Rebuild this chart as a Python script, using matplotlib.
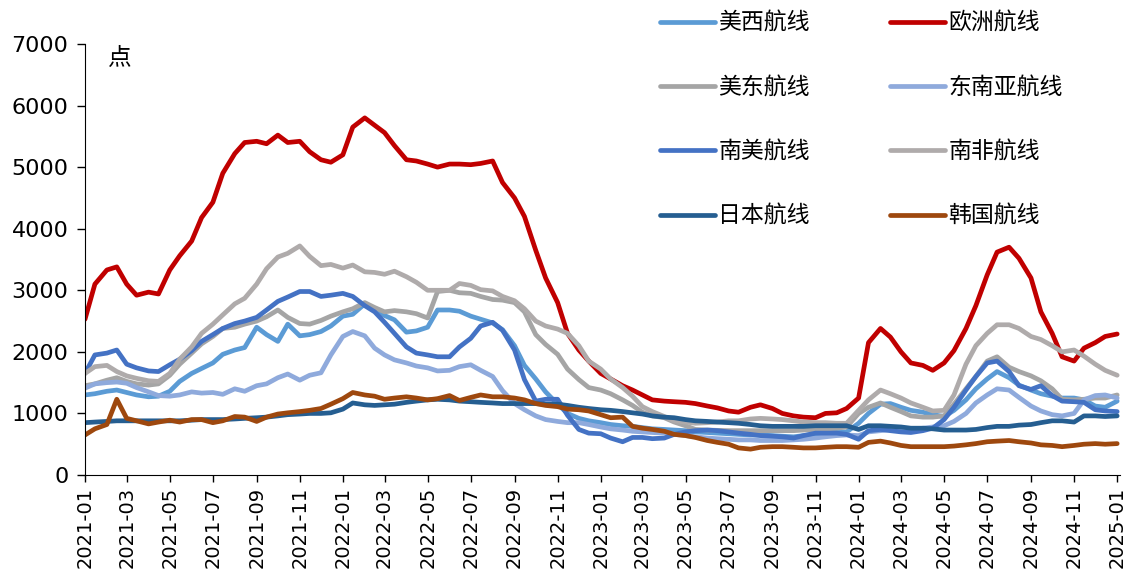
import matplotlib
matplotlib.use('Agg')
import matplotlib.pyplot as plt
import matplotlib.dates as mdates
import pandas as pd

plt.rcParams['font.family'] = ['DejaVu Sans', 'Noto Sans CJK SC']

# 半月数据 2021-01 ~ 2025-01
dates = pd.date_range('2021-01-01', '2025-01-01', freq='SMS')

us_west = [1300, 1320, 1360, 1380, 1340, 1300, 1270, 1280, 1360, 1520,
           1650, 1730, 1820, 1960, 2030, 2070, 2400, 2280, 2170, 2450,
           2260, 2280, 2330, 2420, 2580, 2610, 2780, 2690, 2590, 2520,
           2320, 2340, 2400, 2680, 2680, 2660, 2580, 2530, 2470, 2360,
           2100, 1780, 1560, 1350, 1150, 1000, 920, 880, 850, 820,
           800, 790, 770, 750, 740, 730, 720, 700, 690, 680,
           670, 660, 650, 650, 640, 630, 620, 640, 660, 680,
           700, 700, 840, 1000, 1150, 1160, 1100, 1050, 1020, 980,
           950, 1050, 1220, 1400, 1560, 1680, 1580, 1460, 1380, 1320,
           1280, 1250, 1250, 1220, 1120, 1100, 1200]
europe = [2530, 3100, 3330, 3380, 3100, 2920, 2970, 2940, 3330, 3560,
          3800, 4180, 4430, 4900, 5220, 5400, 5420, 5380, 5520, 5400,
          5420, 5250, 5120, 5080, 5200, 5650, 5800, 5680, 5560, 5350,
          5120, 5100, 5050, 5000, 5050, 5050, 5040, 5060, 5100, 4750,
          4500, 4200, 3650, 3200, 2800, 2300, 2030, 1850, 1650, 1560,
          1450, 1380, 1300, 1220, 1200, 1190, 1180, 1160, 1120, 1090,
          1040, 1020, 1100, 1140, 1080, 1000, 960, 940, 930, 1000,
          1010, 1080, 1250, 2150, 2380, 2240, 2000, 1820, 1780, 1700,
          1820, 2020, 2380, 2750, 3250, 3620, 3700, 3520, 3200, 2650,
          2300, 1920, 1850, 2060, 2150, 2250, 2290]
us_east = [1450, 1480, 1540, 1580, 1520, 1480, 1460, 1480, 1620, 1800,
           1980, 2130, 2250, 2380, 2400, 2450, 2500, 2570, 2680, 2560,
           2460, 2450, 2510, 2580, 2650, 2700, 2800, 2720, 2650, 2670,
           2650, 2620, 2550, 2980, 3000, 2960, 2950, 2900, 2850, 2840,
           2800, 2650, 2280, 2120, 1960, 1720, 1550, 1420, 1380, 1320,
           1220, 1130, 1020, 960, 930, 860, 800, 740, 730, 725,
           720, 720, 720, 720, 720, 720, 720, 730, 740, 750,
           760, 780, 1000, 1100, 1170, 1100, 1030, 960, 940, 940,
           960, 1150, 1400, 1600, 1850, 1920, 1750, 1680, 1610, 1530,
           1400, 1230, 1220, 1230, 1250, 1250, 1300]
sea = [1410, 1480, 1500, 1510, 1490, 1420, 1350, 1290, 1280, 1300,
       1350, 1330, 1340, 1310, 1400, 1360, 1450, 1480, 1580, 1640,
       1540, 1620, 1660, 1950, 2250, 2330, 2260, 2060, 1950, 1870,
       1820, 1770, 1740, 1690, 1700, 1760, 1790, 1700, 1600, 1370,
       1160, 1060, 960, 900, 870, 850, 850, 820, 780, 750,
       730, 710, 700, 690, 680, 660, 640, 620, 600, 590,
       580, 570, 570, 560, 560, 560, 570, 580, 600, 620,
       640, 650, 640, 700, 720, 740, 720, 720, 760, 780,
       800, 870, 1000, 1170, 1300, 1400, 1380, 1260, 1120, 1040,
       980, 960, 1000, 1220, 1290, 1300, 1250]
s_america = [1650, 1950, 1980, 2030, 1800, 1740, 1690, 1680, 1790, 1880,
             2020, 2170, 2280, 2380, 2460, 2500, 2560, 2680, 2820, 2890,
             2980, 2980, 2900, 2920, 2950, 2900, 2750, 2650, 2480, 2300,
             2080, 1980, 1950, 1920, 1920, 2080, 2220, 2420, 2480, 2350,
             2030, 1550, 1200, 1230, 1230, 970, 740, 680, 670, 600,
             540, 610, 610, 590, 600, 660, 700, 720, 730, 720,
             700, 680, 660, 640, 630, 620, 600, 640, 680, 680,
             680, 660, 580, 720, 740, 720, 700, 690, 720, 760,
             900, 1100, 1380, 1600, 1820, 1850, 1680, 1450, 1390, 1450,
             1290, 1200, 1190, 1180, 1060, 1040, 1030]
s_africa = [1650, 1760, 1780, 1680, 1610, 1570, 1530, 1520, 1650, 1880,
            2080, 2300, 2450, 2600, 2780, 2870, 3100, 3350, 3540, 3600,
            3720, 3550, 3400, 3420, 3360, 3410, 3300, 3290, 3260, 3310,
            3220, 3130, 3000, 3000, 3000, 3110, 3080, 3010, 2990, 2900,
            2830, 2700, 2500, 2420, 2370, 2300, 2100, 1850, 1720, 1560,
            1420, 1280, 1110, 1030, 950, 880, 860, 840, 850, 860,
            880, 880, 910, 920, 910, 900, 880, 860, 850, 850,
            840, 840, 1050, 1220, 1380, 1320, 1250, 1170, 1100, 1040,
            1050, 1300, 1800, 2100, 2300, 2440, 2440, 2380, 2250, 2200,
            2100, 2000, 2030, 1930, 1800, 1700, 1620]
japan = [850, 860, 870, 880, 880, 880, 880, 880, 880, 880,
         890, 900, 900, 900, 910, 920, 930, 940, 960, 980,
         990, 1000, 1000, 1010, 1070, 1170, 1140, 1130, 1140, 1150,
         1180, 1200, 1220, 1230, 1220, 1200, 1190, 1180, 1170, 1160,
         1160, 1160, 1160, 1150, 1150, 1130, 1100, 1080, 1060, 1050,
         1030, 1010, 990, 960, 940, 930, 900, 880, 870, 860,
         850, 840, 820, 800, 790, 790, 790, 790, 800, 800,
         800, 800, 740, 800, 800, 790, 780, 760, 760, 750,
         730, 730, 730, 740, 770, 790, 790, 810, 820, 850,
         880, 880, 860, 960, 960, 950, 960]
korea = [650, 750, 820, 1230, 920, 880, 830, 860, 890, 860,
         900, 900, 850, 880, 950, 940, 870, 940, 990, 1010,
         1030, 1050, 1080, 1150, 1240, 1340, 1300, 1280, 1230, 1250,
         1270, 1250, 1220, 1240, 1290, 1210, 1260, 1300, 1270, 1270,
         1250, 1220, 1160, 1130, 1110, 1070, 1060, 1040, 980, 930,
         940, 790, 760, 740, 710, 660, 640, 610, 560, 530,
         500, 440, 420, 450, 460, 460, 450, 440, 440, 450,
         460, 460, 450, 530, 550, 520, 480, 460, 460, 460,
         460, 470, 490, 510, 540, 550, 560, 540, 520, 490,
         480, 460, 480, 500, 510, 500, 510]

names = ['美西航线', '欧洲航线', '美东航线', '东南亚航线',
         '南美航线', '南非航线', '日本航线', '韩国航线']
values = [us_west, europe, us_east, sea, s_america, s_africa, japan, korea]
colors = ['#5B9BD5', '#C00000', '#A5A5A5', '#8FAADC',
          '#4472C4', '#AFABAB', '#255E91', '#9E480E']

fig = plt.figure(figsize=(11.29, 5.72), dpi=100)
ax = fig.add_axes([85 / 1129, 97 / 572, 1035 / 1129, 431 / 572])

lines = []
for name, vals, c in zip(names, values, colors):
    ln, = ax.plot(dates, vals, color=c, lw=3.4, label=name,
                  solid_joinstyle='round', solid_capstyle='round')
    lines.append(ln)

ax.set_ylim(0, 7000)
ax.set_yticks(range(0, 7001, 1000))
ax.set_xlim(pd.Timestamp('2021-01-01'), pd.Timestamp('2025-01-05'))
ax.xaxis.set_major_locator(mdates.MonthLocator(bymonth=[1, 3, 5, 7, 9, 11]))
ax.xaxis.set_major_formatter(mdates.DateFormatter('%Y-%m'))
plt.setp(ax.get_xticklabels(), rotation=90)
ax.spines[['top', 'right']].set_visible(False)
ax.tick_params(axis='x', labelsize=14, length=5, width=1)
ax.tick_params(axis='y', labelsize=16, length=6, width=1, pad=6)

ax.text(0.022, 0.998, '点', transform=ax.transAxes, fontsize=17, va='top')

# 图例按行排列: 左列 美西/美东/南美/日本, 右列 欧洲/东南亚/南非/韩国
order = [0, 2, 4, 6, 1, 3, 5, 7]
fig.legend([lines[i] for i in order], [names[i] for i in order],
           loc='upper left', bbox_to_anchor=(660 / 1129, 1 - 12 / 572),
           ncol=2, frameon=False, fontsize=16.5, handlelength=2.4,
           handletextpad=0.15, labelspacing=1.8, columnspacing=3.5,
           borderpad=0, borderaxespad=0)

fig.savefig('out.png', dpi=100)
